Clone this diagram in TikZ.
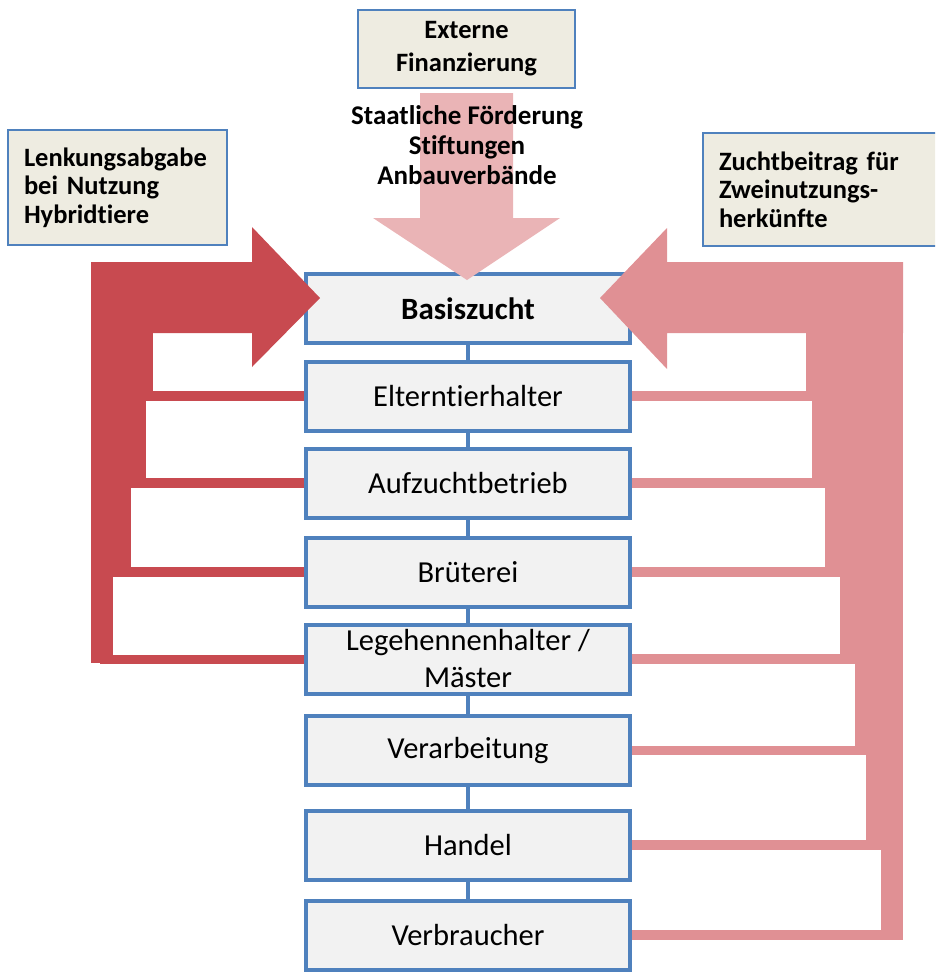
\documentclass[tikz,border=0pt]{standalone}
\usepackage{fontspec}
\setmainfont{Carlito}[RawFeature=-liga]
\definecolor{boxblue}{HTML}{4F81BD}
\definecolor{boxfill}{HTML}{F2F2F2}
\definecolor{notefill}{HTML}{EEECE1}
\definecolor{leftred}{HTML}{C84A50}
\definecolor{rightpink}{HTML}{E09094}
\definecolor{toppink}{HTML}{EAB4B6}
\begin{document}
\begin{tikzpicture}[x=1pt,y=-1pt,
  stage/.style={draw=boxblue, line width=4pt, fill=boxfill, minimum width=324pt,
    minimum height=69pt, inner sep=0pt, align=center,
    font=\fontsize{30.5}{37}\selectfont},
  note/.style={draw=boxblue, line width=1.2pt, fill=notefill, inner sep=0pt,
    font=\bfseries\fontsize{26.5}{28.5}\selectfont},
  link/.style={draw=boxblue, line width=4pt},
  lflow/.style={draw=leftred, line width=9.5pt},
  rflow/.style={draw=rightpink, line width=9.5pt}]
\useasboundingbox (0,0) rectangle (935,972);
\clip (0,0) rectangle (935,972);

% chain of stages
\node[stage, font=\bfseries\fontsize{31}{37}\selectfont] (basis) at (468,308.5) {Basiszucht};
\node[stage] (eltern) at (468,396) {Elterntierhalter};
\node[stage] (aufzucht) at (468,483) {Aufzuchtbetrieb};
\node[stage] (brut) at (468,572) {Brüterei};
\node[stage] (lege) at (468,659) {Legehennenhalter /\\Mäster};
\node[stage] (verarb) at (468,750.5) {Verarbeitung};
\node[stage] (handel) at (468,845) {Handel};
\node[stage] (verbr) at (468,935) {Verbraucher};

\draw[link] (basis.south) -- (eltern.north);
\draw[link] (eltern.south) -- (aufzucht.north);
\draw[link] (aufzucht.south) -- (brut.north);
\draw[link] (brut.south) -- (lege.north);
\draw[link] (lege.south) -- (verarb.north);
\draw[link] (verarb.south) -- (handel.north);
\draw[link] (handel.south) -- (verbr.north);

% notes
\node[note, minimum width=219pt, minimum height=115pt, text width=187pt, align=left]
  (lenk) at (117.5,187.5) {Lenkungsabgabe\\bei Nutzung\\Hybridtiere};
\node[note, minimum width=237pt, minimum height=113pt, text width=205pt, align=left]
  (zucht) at (821.5,189.5) {Zuchtbeitrag für\\Zweinutzungs-\\herkünfte};
\node[note, minimum width=217pt, minimum height=78pt, align=center,
  font=\bfseries\fontsize{26.5}{33}\selectfont]
  (ext) at (466.5,49) {Externe\\Finanzierung};

% top arrow
\fill[toppink] (420,93) -- (513,93) -- (513,218) -- (560,218) -- (467,280)
  -- (373,218) -- (420,218) -- cycle;
\node[align=center, font=\bfseries\fontsize{27}{30}\selectfont] (quellen) at (467,145)
  {Staatliche Förderung\\Stiftungen\\Anbauverbände};

% left flow
\coordinate (lbar) at (100,0);
\fill[leftred] (91,262) rectangle (153,395);
\fill[leftred] (91,395) rectangle (146,483);
\fill[leftred] (91,483) rectangle (131,571);
\fill[leftred] (91,571) rectangle (113,663);
\draw[lflow] (eltern.west) -- (eltern.west -| lbar);
\draw[lflow] (aufzucht.west) -- (aufzucht.west -| lbar);
\draw[lflow] (brut.west) -- (brut.west -| lbar);
\draw[lflow] ([yshift=-0.5pt]lege.west) -- ([yshift=-0.5pt]lege.west -| lbar);
\fill[leftred] (91,262) -- (252,262) -- (252,227) -- (320,298) -- (252,367)
  -- (252,333) -- (91,333) -- cycle;

% right flow
\coordinate (rbar) at (895,0);
\fill[rightpink] (806,333) rectangle (903,395);
\fill[rightpink] (812,395) rectangle (903,483);
\fill[rightpink] (825,483) rectangle (903,571);
\fill[rightpink] (840,571) rectangle (903,659);
\fill[rightpink] (855,659) rectangle (903,751);
\fill[rightpink] (866,751) rectangle (903,844);
\fill[rightpink] (881,844) rectangle (903,940);
\draw[rflow] (eltern.east) -- (eltern.east -| rbar);
\draw[rflow] (aufzucht.east) -- (aufzucht.east -| rbar);
\draw[rflow] (brut.east) -- (brut.east -| rbar);
\draw[rflow] (lege.east) -- (lege.east -| rbar);
\draw[rflow] (verarb.east) -- (verarb.east -| rbar);
\draw[rflow] (handel.east) -- (handel.east -| rbar);
\draw[rflow] (verbr.east) -- (verbr.east -| rbar);
\fill[rightpink] (903,262) -- (667,262) -- (667,228) -- (600,298) -- (667,369)
  -- (667,333) -- (903,333) -- cycle;
\end{tikzpicture}
\end{document}
